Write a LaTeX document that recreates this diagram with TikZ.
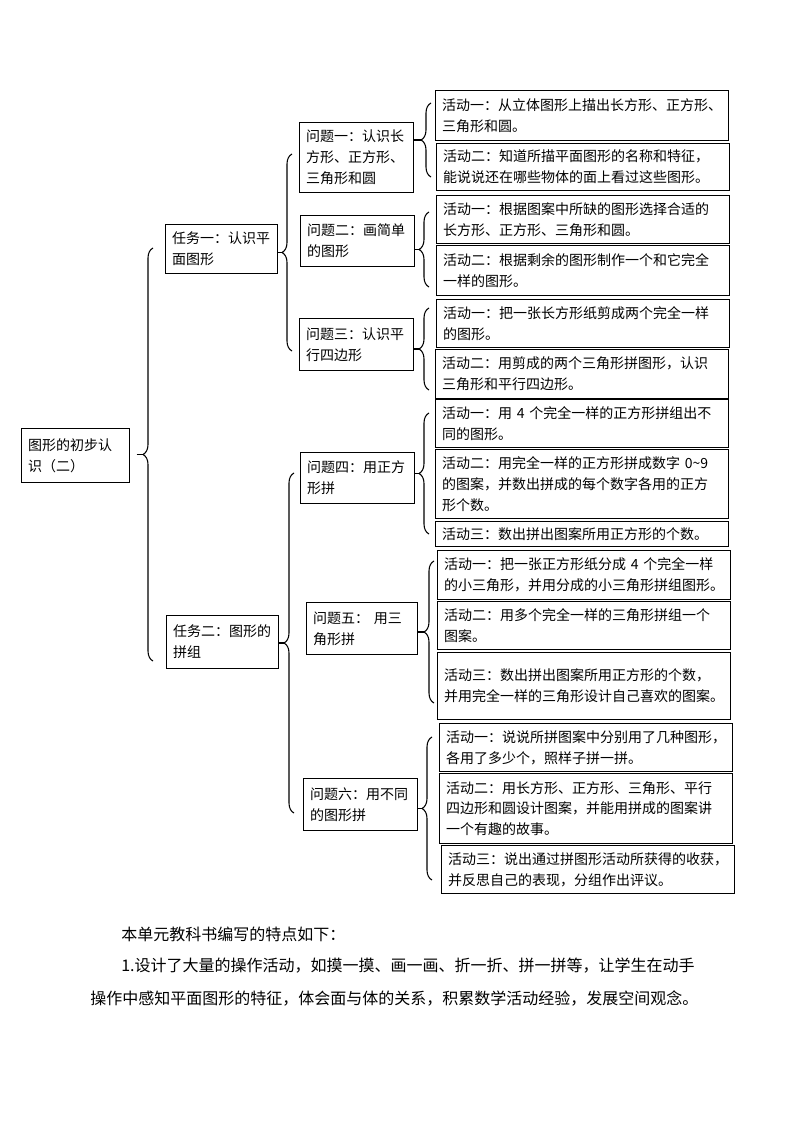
\documentclass[tikz,border=0pt]{standalone}
\usepackage{fontspec}
\setmainfont{Noto Sans CJK SC}
\usetikzlibrary{decorations.pathreplacing}

\begin{document}
\begin{tikzpicture}[
                    x=0.75pt, y=-0.75pt,
                    box/.style={
                        draw,
                        line width=0.8pt,
                        anchor=north west,
                        align=left,
                        inner xsep=5pt,
                        inner ysep=0pt,
                        font=\fontsize{10.5}{15.6}\selectfont
                    },
                    ht/.style={minimum height=#1*0.75pt},
                    top/.style={box, text width=71pt},
                    tsk/.style={box, text width=74pt},
                    qst/.style={box, text width=75.5pt},
                    act/.style={box, text width=210pt},
                    brc/.style={line width=0.8pt, decorate, decoration={brace, amplitude=7.5pt}},
                    para/.style={anchor=west, inner sep=0pt, font=\fontsize{12}{18}\selectfont}
                ]
                    \useasboundingbox (0,0) rectangle (794,1123);

                    \node[top, ht=54] (root) at (21,428) {图形的初步认\\识（二）};
                    \node[tsk, ht=49] (t1) at (165,224) {任务一：认识平\\面图形};
                    \node[tsk, ht=53] (t2) at (166,615) {任务二：图形的\\拼组};

                    \node[qst, ht=70] (q1) at (299,122) {问题一：认识长\\方形、正方形、\\三角形和圆};
                    \node[qst, ht=51] (q2) at (300,215) {问题二：画简单\\的图形};
                    \node[qst, ht=52] (q3) at (299,318) {问题三：认识平\\行四边形};
                    \node[qst, ht=51] (q4) at (300,452) {问题四：用正方\\形拼};
                    \node[qst, ht=52, text width=73pt] (q5) at (306,602) {问题五： 用三\\角形拼};
                    \node[qst, ht=52] (q6) at (303,778) {问题六：用不同\\的图形拼};

                    \node[act, ht=50] (a11) at (435,90) {活动一：从立体图形上描出长方形、正方形、\\三角形和圆。};
                    \node[act, ht=47] (a12) at (436,143) {活动二：知道所描平面图形的名称和特征，\\能说说还在哪些物体的面上看过这些图形。};
                    \node[act, ht=48] (a21) at (436,195) {活动一：根据图案中所缺的图形选择合适的\\长方形、正方形、三角形和圆。};
                    \node[act, ht=50] (a22) at (436,245) {活动二：根据剩余的图形制作一个和它完全\\一样的图形。};
                    \node[act, ht=48] (a31) at (436,299) {活动一：把一张长方形纸剪成两个完全一样\\的图形。};
                    \node[act, ht=49] (a32) at (435,349) {活动二：用剪成的两个三角形拼图形，认识\\三角形和平行四边形。};
                    \node[act, ht=48] (a41) at (435,399) {活动一：用 4 个完全一样的正方形拼组出不\\同的图形。};
                    \node[act, ht=69] (a42) at (435,449) {活动二：用完全一样的正方形拼成数字 0\textasciitilde 9\\的图案，并数出拼成的每个数字各用的正方\\形个数。};
                    \node[act, ht=25] (a43) at (435,521) {活动三：数出拼出图案所用正方形的个数。};
                    \node[act, ht=49] (a51) at (437,550) {活动一：把一张正方形纸分成 4 个完全一样\\的小三角形，并用分成的小三角形拼组图形。};
                    \node[act, ht=48] (a52) at (437,601) {活动二：用多个完全一样的三角形拼组一个\\图案。};
                    \node[act, ht=67] (a53) at (437,652) {活动三：数出拼出图案所用正方形的个数，\\并用完全一样的三角形设计自己喜欢的图案。};
                    \node[act, ht=48] (a61) at (439,723) {活动一：说说所拼图案中分别用了几种图形，\\各用了多少个，照样子拼一拼。};
                    \node[act, ht=70] (a62) at (439,773) {活动二：用长方形、正方形、三角形、平行\\四边形和圆设计图案，并能用拼成的图案讲\\一个有趣的故事。};
                    \node[act, ht=48] (a63) at (441,845) {活动三：说出通过拼图形活动所获得的收获，\\并反思自己的表现，分组作出评议。};

                    % Braces
                    \draw[brc] (153,661) -- (153,248);
                    \draw[brc] (292,351) -- (292,154);
                    \draw[brc] (294,813) -- (294,473);
                    \draw[brc] (431,177) -- (431,103);
                    \draw[brc] (429,287) -- (429,212);
                    \draw[brc] (429,390) -- (429,308);
                    \draw[brc] (429,534) -- (429,413);
                    \draw[brc] (434,703) -- (434,561);
                    \draw[brc] (432,880) -- (432,737);
                    \coordinate (rt) at (143,454.5);
                    \coordinate (t1t) at (282,252.5);
                    \coordinate (t2t) at (284,643);
                    \coordinate (q1t) at (421,140);
                    \coordinate (q2t) at (419,249.5);
                    \coordinate (q3t) at (419,349);
                    \coordinate (q4t) at (419,473.5);
                    \coordinate (q5t) at (424,632);
                    \coordinate (q6t) at (422,808.5);

                    % Edges
                    \draw[line width=0.8pt, shorten <=5pt] (root.east |- rt) -- (rt);
                    \draw[line width=0.8pt] (t1.east |- t1t) -- (t1t);
                    \draw[line width=0.8pt] (t2.east |- t2t) -- (t2t);
                    \draw[line width=0.8pt] (q1.east |- q1t) -- (q1t);
                    \draw[line width=0.8pt] (q2.east |- q2t) -- (q2t);
                    \draw[line width=0.8pt] (q3.east |- q3t) -- (q3t);
                    \draw[line width=0.8pt] (q4.east |- q4t) -- (q4t);
                    \draw[line width=0.8pt] (q5.east |- q5t) -- (q5t);
                    \draw[line width=0.8pt] (q6.east |- q6t) -- (q6t);

                    \node[para] (p1) at (121,934) {本单元教科书编写的特点如下：};
                    \node[para] (p2) at (121,966) {1.设计了大量的操作活动，如摸一摸、画一画、折一折、拼一拼等，让学生在动手};
                    \node[para] (p3) at (90,998) {操作中感知平面图形的特征，体会面与体的关系，积累数学活动经验，发展空间观念。};
                \end{tikzpicture}
\end{document}
